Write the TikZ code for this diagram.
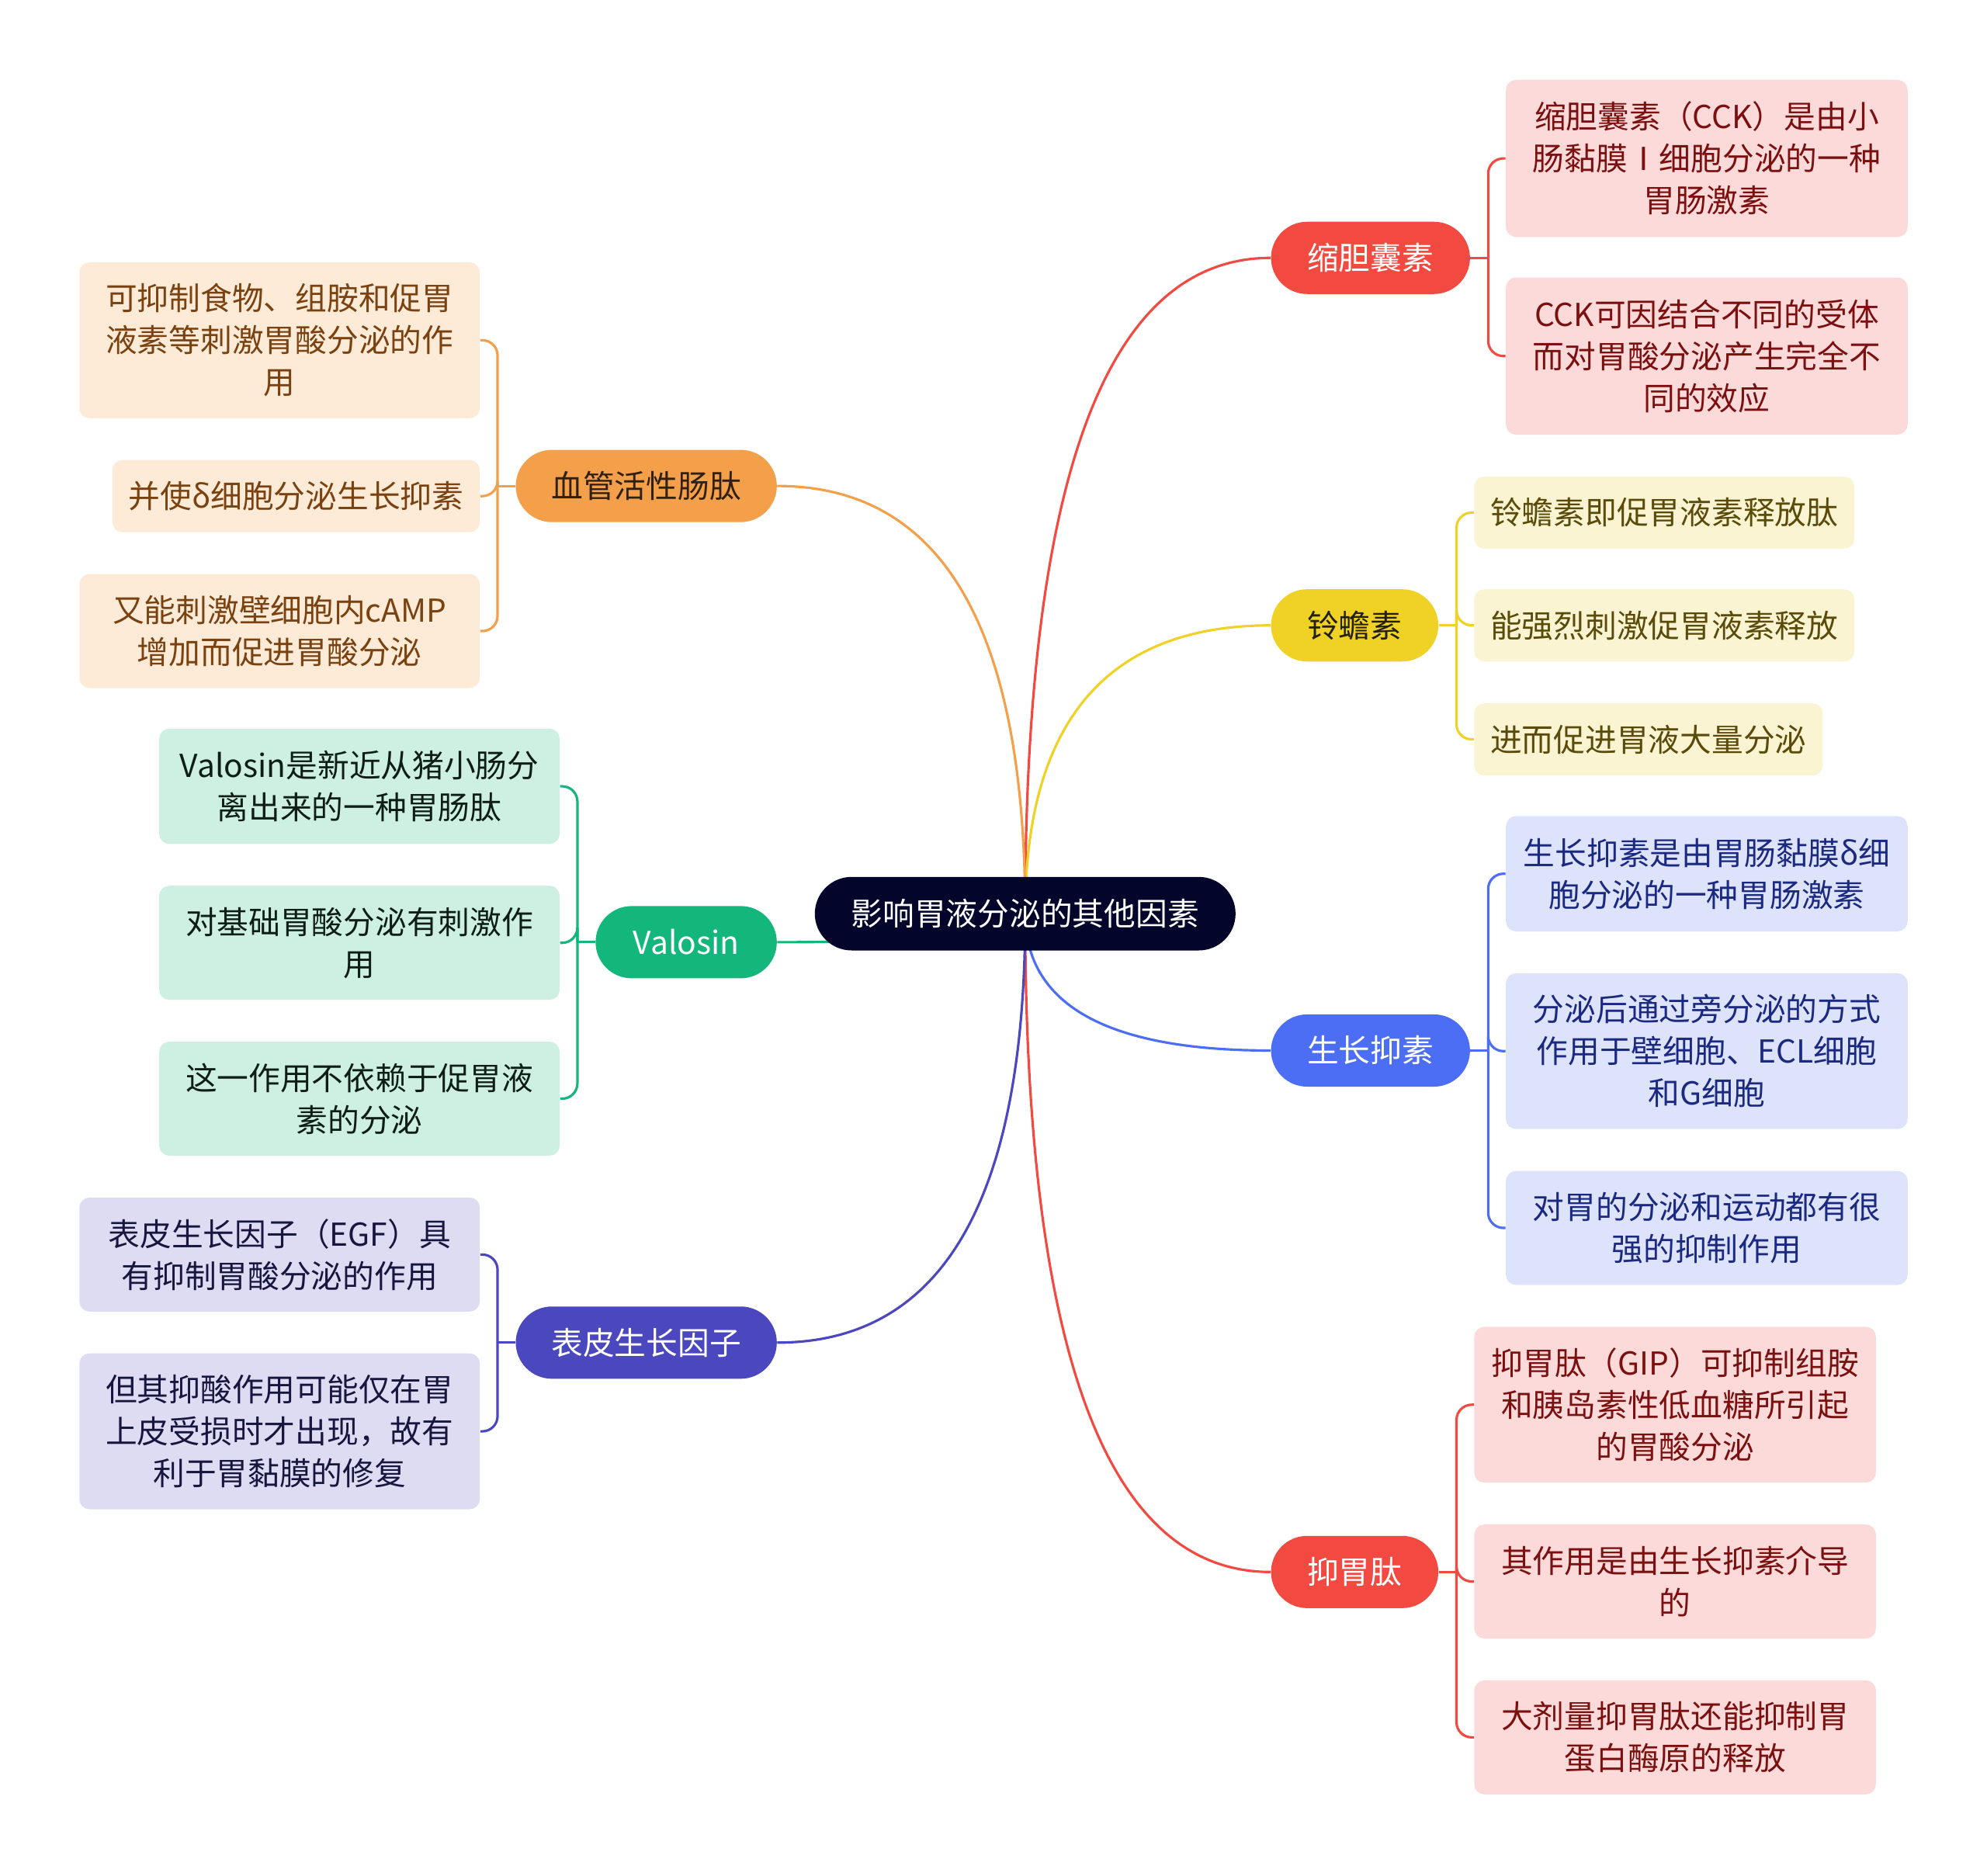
\documentclass[tikz,border=0pt]{standalone}
\usepackage{fontspec}
\setmainfont{Noto Sans CJK SC}
\usetikzlibrary{positioning,calc}
\pgfdeclarelayer{background}
\pgfsetlayers{background,main}

\definecolor{rootc}{HTML}{03052A}
\definecolor{redc}{HTML}{F24A40}
\definecolor{yellowc}{HTML}{F0D227}
\definecolor{bluec}{HTML}{4C6EF5}
\definecolor{orangec}{HTML}{F4A04B}
\definecolor{greenc}{HTML}{13B77C}
\definecolor{indigoc}{HTML}{4B47BF}
\definecolor{pinkfill}{HTML}{FCDADA}
\definecolor{pinktext}{HTML}{7B1010}
\definecolor{yellowfill}{HTML}{FBF4D3}
\definecolor{yellowtext}{HTML}{5A4B0A}
\definecolor{bluefill}{HTML}{DDE3FB}
\definecolor{bluetext}{HTML}{1B2A80}
\definecolor{orangefill}{HTML}{FDEBD8}
\definecolor{orangetext}{HTML}{7A4210}
\definecolor{greenfill}{HTML}{CDF0E2}
\definecolor{greentext}{HTML}{0E1E16}
\definecolor{indigofill}{HTML}{DEDCF3}
\definecolor{indigotext}{HTML}{17163F}

\begin{document}
\begin{tikzpicture}[x=0.2mm, y=-0.2mm,
    every node/.style={font=\fontsize{14.2}{18.8}\selectfont, inner sep=0pt, align=center},
    topic/.style={rounded corners=5.7mm, minimum height=11.4mm, text=white},
    leaf/.style={rounded corners=1.6mm},
    link/.style={line width=1.1pt}]
      \useasboundingbox (0,0) rectangle (1568,1480);

      % Define nodes
      \node[rounded corners=5.8mm, fill=rootc, text=white, minimum width=66.4mm, minimum height=11.6mm] (root) at (809,721) {影响胃液分泌的其他因素};

      \node[topic, fill=redc, minimum width=31.4mm] (cck) at (1081.5,203.5) {缩胆囊素};
      \node[topic, fill=yellowc, text=black!85!yellowc, minimum width=26.4mm] (bomb) at (1069,493.5) {铃蟾素};
      \node[topic, fill=bluec, minimum width=31.4mm] (ss) at (1081.5,829) {生长抑素};
      \node[topic, fill=redc, minimum width=26.4mm] (gip) at (1069,1240.5) {抑胃肽};
      \node[topic, fill=orangec, text=black!80!orangec, minimum width=41.2mm] (vip) at (510,383.5) {血管活性肠肽};
      \node[topic, fill=greenc, minimum width=28.6mm] (val) at (541.5,743.5) {Valosin};
      \node[topic, fill=indigoc, minimum width=41.2mm] (egf) at (510,1059.5) {表皮生长因子};

      \node[leaf, fill=pinkfill, text=pinktext, minimum width=63.4mm, minimum height=24.8mm, anchor=west] (cck1) at (1188,125) {缩胆囊素（CCK）是由小\\肠黏膜Ⅰ细胞分泌的一种\\胃肠激素};
      \node[leaf, fill=pinkfill, text=pinktext, minimum width=63.4mm, minimum height=24.8mm, anchor=west] (cck2) at (1188,281) {CCK可因结合不同的受体\\而对胃酸分泌产生完全不\\同的效应};

      \node[leaf, fill=yellowfill, text=yellowtext, minimum width=60mm, minimum height=11.4mm, anchor=west] (bomb1) at (1163,404.5) {铃蟾素即促胃液素释放肽};
      \node[leaf, fill=yellowfill, text=yellowtext, minimum width=60mm, minimum height=11.4mm, anchor=west] (bomb2) at (1163,493.5) {能强烈刺激促胃液素释放};
      \node[leaf, fill=yellowfill, text=yellowtext, minimum width=55mm, minimum height=11.4mm, anchor=west] (bomb3) at (1163,583.5) {进而促进胃液大量分泌};

      \node[leaf, fill=bluefill, text=bluetext, minimum width=63.4mm, minimum height=18.2mm, anchor=west] (ss1) at (1188,689.5) {生长抑素是由胃肠黏膜δ细\\胞分泌的一种胃肠激素};
      \node[leaf, fill=bluefill, text=bluetext, minimum width=63.4mm, minimum height=24.6mm, anchor=west] (ss2) at (1188,829.5) {分泌后通过旁分泌的方式\\作用于壁细胞、ECL细胞\\和G细胞};
      \node[leaf, fill=bluefill, text=bluetext, minimum width=63.4mm, minimum height=18mm, anchor=west] (ss3) at (1188,969) {对胃的分泌和运动都有很\\强的抑制作用};

      \node[leaf, fill=pinkfill, text=pinktext, minimum width=63.4mm, minimum height=24.6mm, anchor=west] (gip1) at (1163,1108.5) {抑胃肽（GIP）可抑制组胺\\和胰岛素性低血糖所引起\\的胃酸分泌};
      \node[leaf, fill=pinkfill, text=pinktext, minimum width=63.4mm, minimum height=18mm, anchor=west] (gip2) at (1163,1248) {其作用是由生长抑素介导\\的};
      \node[leaf, fill=pinkfill, text=pinktext, minimum width=63.4mm, minimum height=18mm, anchor=west] (gip3) at (1163,1371) {大剂量抑胃肽还能抑制胃\\蛋白酶原的释放};

      \node[leaf, fill=orangefill, text=orangetext, minimum width=63.2mm, minimum height=24.6mm, anchor=east] (vip1) at (379,268.5) {可抑制食物、组胺和促胃\\液素等刺激胃酸分泌的作\\用};
      \node[leaf, fill=orangefill, text=orangetext, minimum width=58mm, minimum height=11.4mm, anchor=east] (vip2) at (379,391.5) {并使δ细胞分泌生长抑素};
      \node[leaf, fill=orangefill, text=orangetext, minimum width=63.2mm, minimum height=18mm, anchor=east] (vip3) at (379,498) {又能刺激壁细胞内cAMP\\增加而促进胃酸分泌};

      \node[leaf, fill=greenfill, text=greentext, minimum width=63.2mm, minimum height=18.2mm, anchor=east] (val1) at (442,620.5) {Valosin是新近从猪小肠分\\离出来的一种胃肠肽};
      \node[leaf, fill=greenfill, text=greentext, minimum width=63.2mm, minimum height=18mm, anchor=east] (val2) at (442,744) {对基础胃酸分泌有刺激作\\用};
      \node[leaf, fill=greenfill, text=greentext, minimum width=63.2mm, minimum height=18mm, anchor=east] (val3) at (442,867) {这一作用不依赖于促胃液\\素的分泌};

      \node[leaf, fill=indigofill, text=indigotext, minimum width=63.2mm, minimum height=18mm, anchor=east] (egf1) at (379,990) {表皮生长因子（EGF）具\\有抑制胃酸分泌的作用};
      \node[leaf, fill=indigofill, text=indigotext, minimum width=63.2mm, minimum height=24.6mm, anchor=east] (egf2) at (379,1129.5) {但其抑酸作用可能仅在胃\\上皮受损时才出现，故有\\利于胃黏膜的修复};

      % Draw edges
      \begin{pgfonlayer}{background}
      \foreach \t/\a/\c in {cck/west/redc, bomb/west/yellowc, ss/west/bluec, gip/west/redc, vip/east/orangec, val/east/greenc, egf/east/indigoc}
        \draw[link, \c] (root.center) .. controls ($(root.center)!2/3!(root.center |- \t.\a)$) and ($(\t.\a)!2/3!(root.center |- \t.\a)$) .. (\t.\a);

      \coordinate (cckj) at ($(cck.east)+(14,0)$);
      \coordinate (bombj) at ($(bomb.east)+(14,0)$);
      \coordinate (ssj) at ($(ss.east)+(14,0)$);
      \coordinate (gipj) at ($(gip.east)+(14,0)$);
      \coordinate (vipj) at ($(vip.west)+(-14,0)$);
      \coordinate (valj) at ($(val.west)+(-14,0)$);
      \coordinate (egfj) at ($(egf.west)+(-14,0)$);

      \foreach \t/\c in {cck/redc, bomb/yellowc, ss/bluec, gip/redc}
        \draw[link, \c] (\t.east) -- (\t j);
      \foreach \t/\c in {vip/orangec, val/greenc, egf/indigoc}
        \draw[link, \c] (\t.west) -- (\t j);

      \foreach \l in {cck1,cck2} \draw[link, redc, rounded corners=2.4mm] (cckj) |- (\l.west);
      \foreach \l in {bomb1,bomb2,bomb3} \draw[link, yellowc, rounded corners=2.4mm] (bombj) |- (\l.west);
      \foreach \l in {ss1,ss2,ss3} \draw[link, bluec, rounded corners=2.4mm] (ssj) |- (\l.west);
      \foreach \l in {gip1,gip2,gip3} \draw[link, redc, rounded corners=2.4mm] (gipj) |- (\l.west);
      \foreach \l in {vip1,vip2,vip3} \draw[link, orangec, rounded corners=2.4mm] (vipj) |- (\l.east);
      \foreach \l in {val1,val2,val3} \draw[link, greenc, rounded corners=2.4mm] (valj) |- (\l.east);
      \foreach \l in {egf1,egf2} \draw[link, indigoc, rounded corners=2.4mm] (egfj) |- (\l.east);
      \end{pgfonlayer}
    \end{tikzpicture}
\end{document}
